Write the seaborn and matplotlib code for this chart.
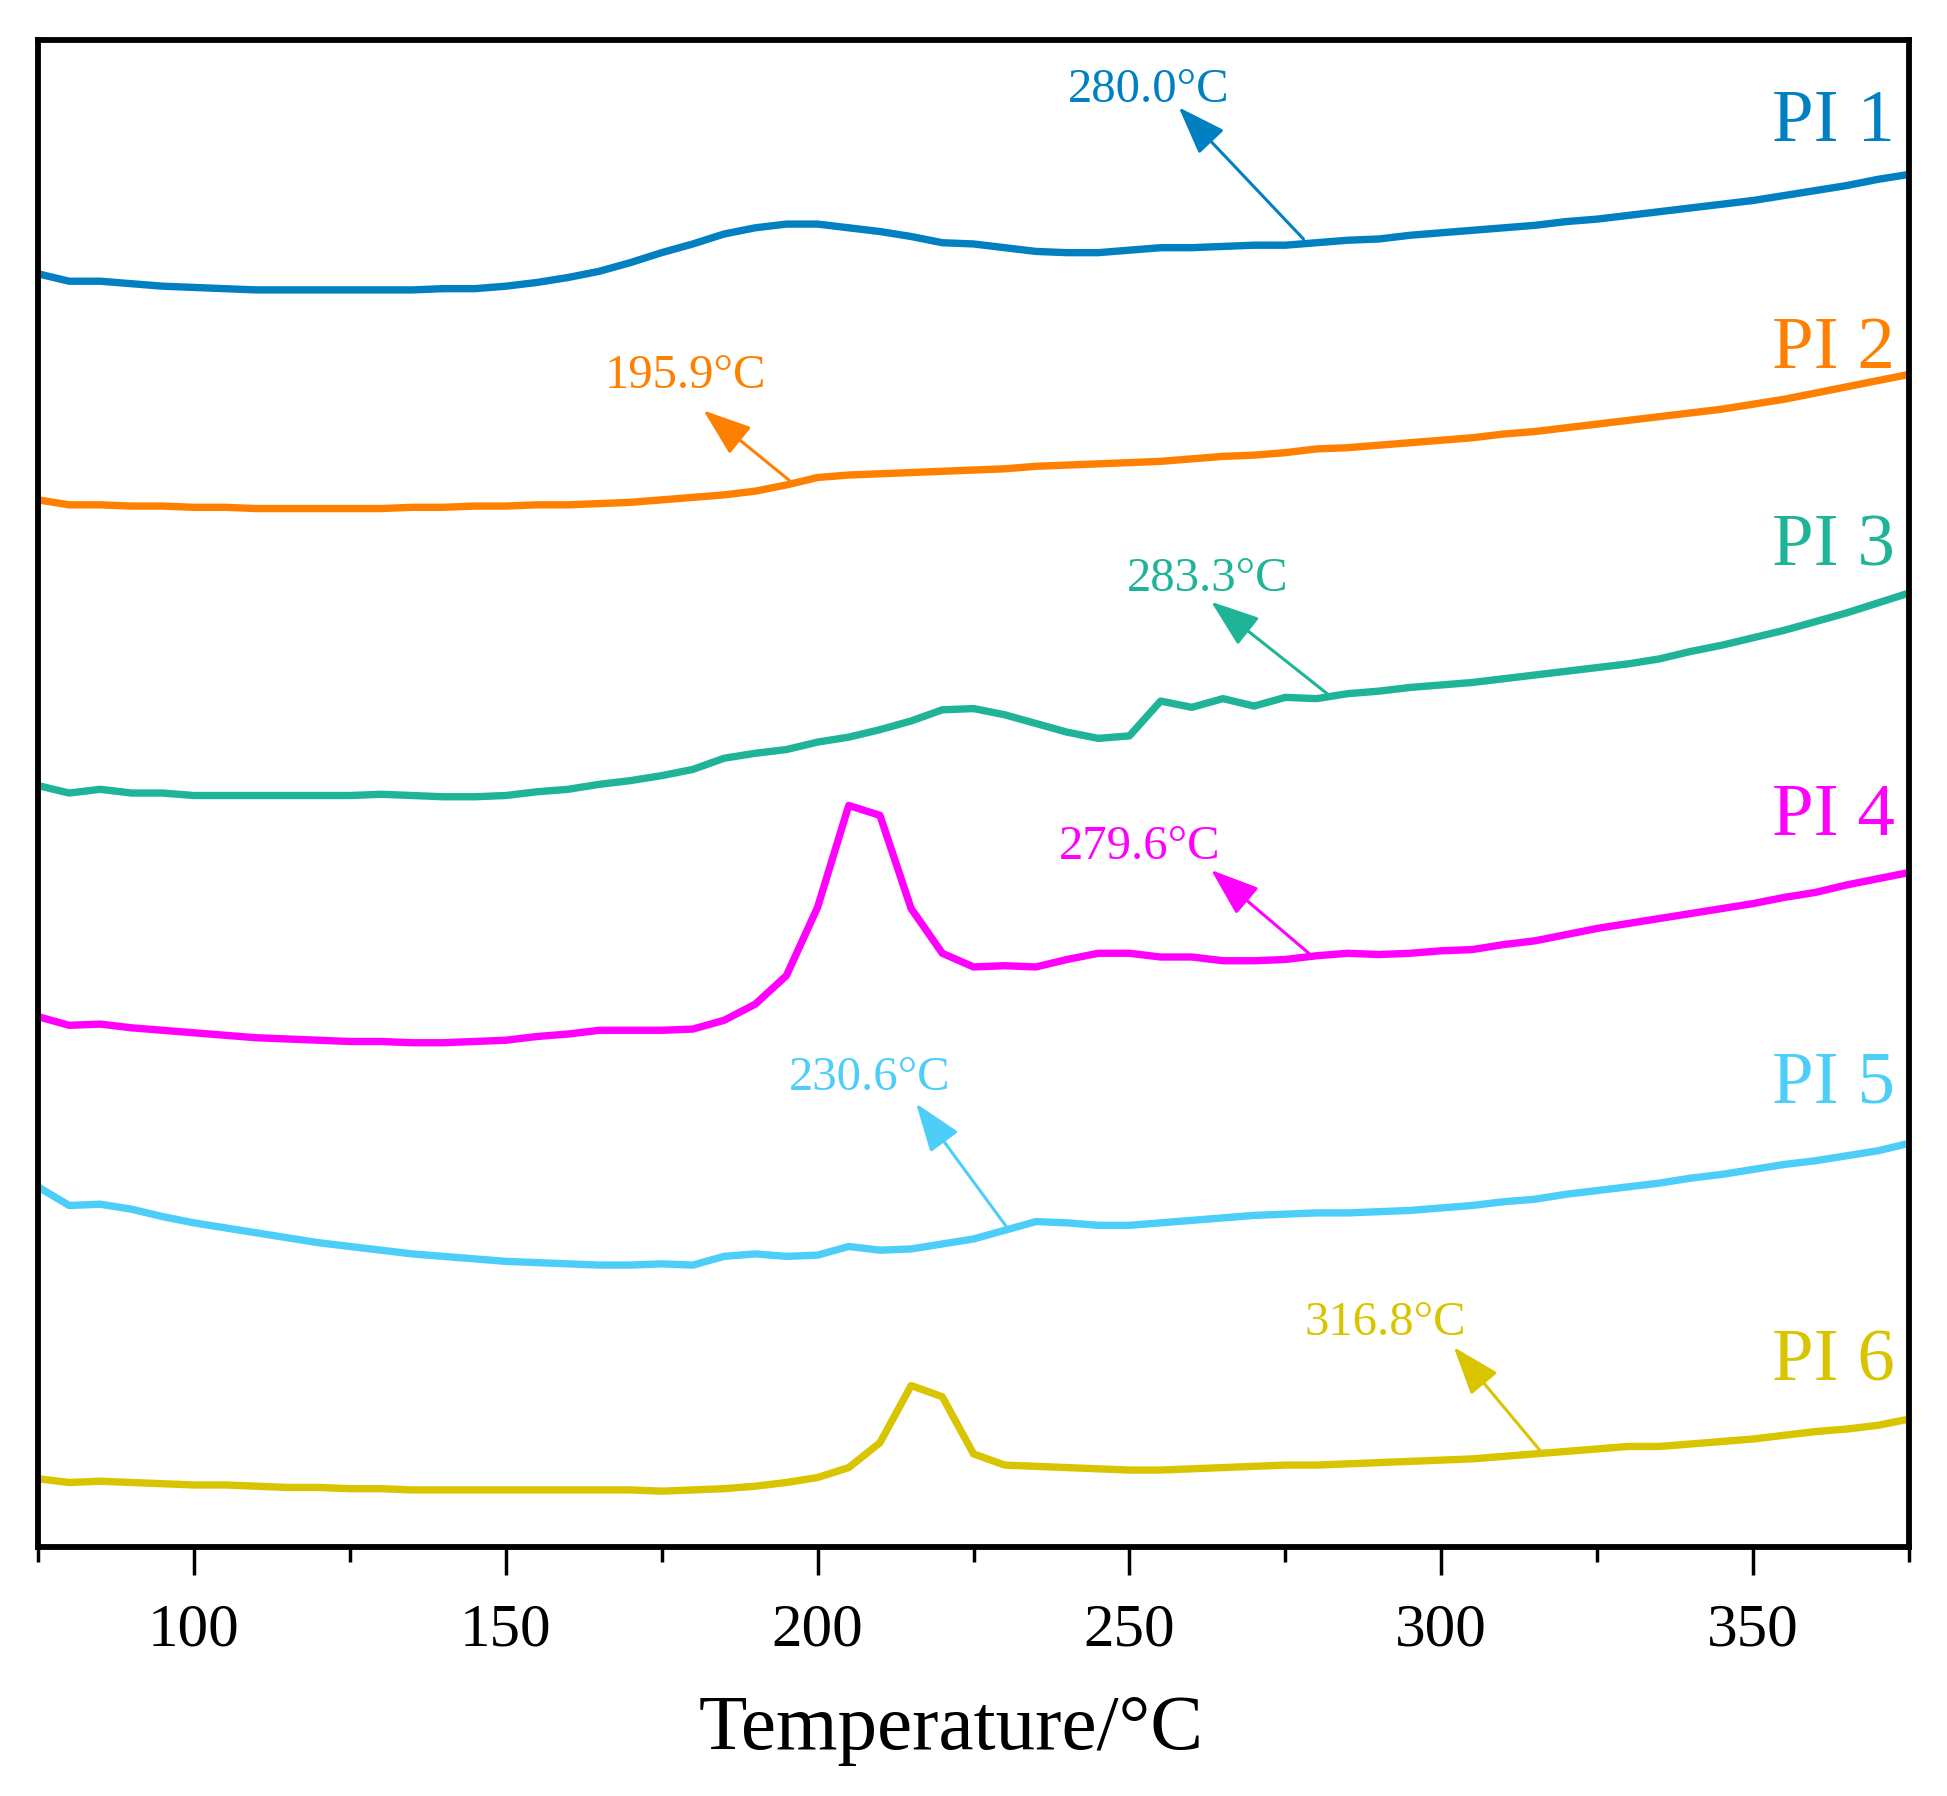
import matplotlib
matplotlib.use("Agg")
import matplotlib.pyplot as plt
import seaborn as sns
import pandas as pd
import numpy as np
from matplotlib.ticker import MultipleLocator

# Temperatura (°C), un punto cada 5 °C
temperatura = list(range(75, 380, 5))

# Flujo de calor (u.a., curvas desplazadas)
pi1 = [10.25, 10.19, 10.19, 10.17, 10.15, 10.14, 10.13, 10.12, 10.12, 10.12,
       10.12, 10.12, 10.12, 10.13, 10.13, 10.15, 10.18, 10.22, 10.27, 10.34,
       10.42, 10.49, 10.57, 10.62, 10.65, 10.65, 10.62, 10.59, 10.55, 10.50,
       10.49, 10.46, 10.43, 10.42, 10.42, 10.44, 10.46, 10.46, 10.47, 10.48,
       10.48, 10.50, 10.52, 10.53, 10.56, 10.58, 10.60, 10.62, 10.64, 10.67,
       10.69, 10.72, 10.75, 10.78, 10.81, 10.84, 10.88, 10.92, 10.96, 11.01,
       11.05]
pi2 = [8.43, 8.39, 8.39, 8.38, 8.38, 8.37, 8.37, 8.36, 8.36, 8.36,
       8.36, 8.36, 8.37, 8.37, 8.38, 8.38, 8.39, 8.39, 8.40, 8.41,
       8.43, 8.45, 8.47, 8.50, 8.55, 8.61, 8.63, 8.64, 8.65, 8.66,
       8.67, 8.68, 8.70, 8.71, 8.72, 8.73, 8.74, 8.76, 8.78, 8.79,
       8.81, 8.84, 8.85, 8.87, 8.89, 8.91, 8.93, 8.96, 8.98, 9.01,
       9.04, 9.07, 9.10, 9.13, 9.16, 9.20, 9.24, 9.29, 9.34, 9.39,
       9.44]
pi3 = [6.13, 6.07, 6.10, 6.07, 6.07, 6.05, 6.05, 6.05, 6.05, 6.05,
       6.05, 6.06, 6.05, 6.04, 6.04, 6.05, 6.08, 6.10, 6.14, 6.17,
       6.21, 6.26, 6.35, 6.39, 6.42, 6.48, 6.52, 6.58, 6.65, 6.74,
       6.75, 6.70, 6.63, 6.56, 6.51, 6.53, 6.81, 6.76, 6.83, 6.77,
       6.84, 6.83, 6.87, 6.89, 6.92, 6.94, 6.96, 6.99, 7.02, 7.05,
       7.08, 7.11, 7.15, 7.21, 7.26, 7.32, 7.38, 7.45, 7.52, 7.60,
       7.68]
pi4 = [4.27, 4.20, 4.21, 4.18, 4.16, 4.14, 4.12, 4.10, 4.09, 4.08,
       4.07, 4.07, 4.06, 4.06, 4.07, 4.08, 4.11, 4.13, 4.16, 4.16,
       4.16, 4.17, 4.24, 4.37, 4.60, 5.15, 5.97, 5.89, 5.14, 4.78,
       4.67, 4.68, 4.67, 4.73, 4.78, 4.78, 4.75, 4.75, 4.72, 4.72,
       4.73, 4.76, 4.78, 4.77, 4.78, 4.80, 4.81, 4.85, 4.88, 4.93,
       4.98, 5.02, 5.06, 5.10, 5.14, 5.18, 5.23, 5.27, 5.33, 5.38,
       5.43]
pi5 = [2.90, 2.75, 2.76, 2.72, 2.66, 2.61, 2.57, 2.53, 2.49, 2.45,
       2.42, 2.39, 2.36, 2.34, 2.32, 2.30, 2.29, 2.28, 2.27, 2.27,
       2.28, 2.27, 2.34, 2.36, 2.34, 2.35, 2.42, 2.39, 2.40, 2.44,
       2.48, 2.55, 2.62, 2.61, 2.59, 2.59, 2.61, 2.63, 2.65, 2.67,
       2.68, 2.69, 2.69, 2.70, 2.71, 2.73, 2.75, 2.78, 2.80, 2.84,
       2.87, 2.90, 2.93, 2.97, 3.00, 3.04, 3.08, 3.11, 3.15, 3.19,
       3.25]
pi6 = [0.55, 0.52, 0.53, 0.52, 0.51, 0.50, 0.50, 0.49, 0.48, 0.48,
       0.47, 0.47, 0.46, 0.46, 0.46, 0.46, 0.46, 0.46, 0.46, 0.46,
       0.45, 0.46, 0.47, 0.49, 0.52, 0.56, 0.64, 0.84, 1.30, 1.21,
       0.75, 0.66, 0.65, 0.64, 0.63, 0.62, 0.62, 0.63, 0.64, 0.65,
       0.66, 0.66, 0.67, 0.68, 0.69, 0.70, 0.71, 0.73, 0.75, 0.77,
       0.79, 0.81, 0.81, 0.83, 0.85, 0.87, 0.90, 0.93, 0.95, 0.98,
       1.03]

muestras = ['PI 1', 'PI 2', 'PI 3', 'PI 4', 'PI 5', 'PI 6']
temperaturas_tg = ['280.0°C', '195.9°C', '283.3°C', '279.6°C', '230.6°C', '316.8°C']
colores = ['#0080C0', '#FF8000', '#1FB497', '#FF00FF', '#4CCEF8', '#D9C400']

# Posiciones de etiquetas y flechas (T, y)
pos_texto = [(253.1, 11.63), (178.9, 9.33), (262.5, 7.70),
             (251.6, 5.54), (208.4, 3.68), (291.0, 1.71)]
pos_punta = [(257.9, 11.59), (181.7, 9.15), (263.1, 7.61),
             (263.1, 5.45), (215.8, 3.57), (302.0, 1.61)]
pos_cola = [(277.9, 10.53), (195.4, 8.59), (281.7, 6.87),
            (279.0, 4.77), (230.7, 2.55), (316.3, 0.75)]
pos_nombre = [11.32, 9.49, 7.90, 5.73, 3.58, 1.34]

sns.set_theme(style='ticks')
plt.rcParams['font.family'] = ['Liberation Serif', 'DejaVu Serif']

series = [pi1, pi2, pi3, pi4, pi5, pi6]
df = pd.concat([
    pd.DataFrame({'Temperatura': temperatura, 'Flujo': s, 'Muestra': m})
    for s, m in zip(series, muestras)
], ignore_index=True)

fig = plt.figure(figsize=(19.47, 17.96), dpi=100)
ax = fig.add_axes([0.0195, 0.1386, 0.961, 0.839])

sns.lineplot(data=df, x='Temperatura', y='Flujo', hue='Muestra',
             palette=colores, linewidth=5.3, legend=False, ax=ax)

for i, c in enumerate(colores):
    ax.text(pos_texto[i][0], pos_texto[i][1], temperaturas_tg[i], color=c,
            fontsize=35, ha='center', va='baseline')
    ax.annotate('', xy=pos_punta[i], xytext=pos_cola[i],
                arrowprops=dict(arrowstyle='-|>,head_length=0.75,head_width=0.27',
                                mutation_scale=40, lw=2.2, color=c,
                                shrinkA=0, shrinkB=0))
    ax.text(372.8, pos_nombre[i], muestras[i], color=c, fontsize=54,
            ha='right', va='baseline')

ax.set_xlim(75, 375)
ax.set_ylim(0, 12.13)
ax.set_yticks([])
ax.xaxis.set_major_locator(MultipleLocator(50))
ax.xaxis.set_minor_locator(MultipleLocator(25))
ax.set_xticks([100, 150, 200, 250, 300, 350])
ax.tick_params(axis='x', which='major', length=20, width=2.5, direction='out',
               labelsize=44, pad=20, color='black', labelcolor='black')
ax.tick_params(axis='x', which='minor', length=11, width=2.5, direction='out',
               color='black')
ax.set_xlabel('Temperature/°C', fontsize=57, labelpad=26, color='black')
ax.xaxis.label.set_x(0.488)
ax.set_ylabel('')

for lado in ['top', 'bottom', 'left', 'right']:
    ax.spines[lado].set_visible(True)
    ax.spines[lado].set_linewidth(4.2)
    ax.spines[lado].set_color('black')

fig.savefig('out.png', dpi=100)
plt.close(fig)
